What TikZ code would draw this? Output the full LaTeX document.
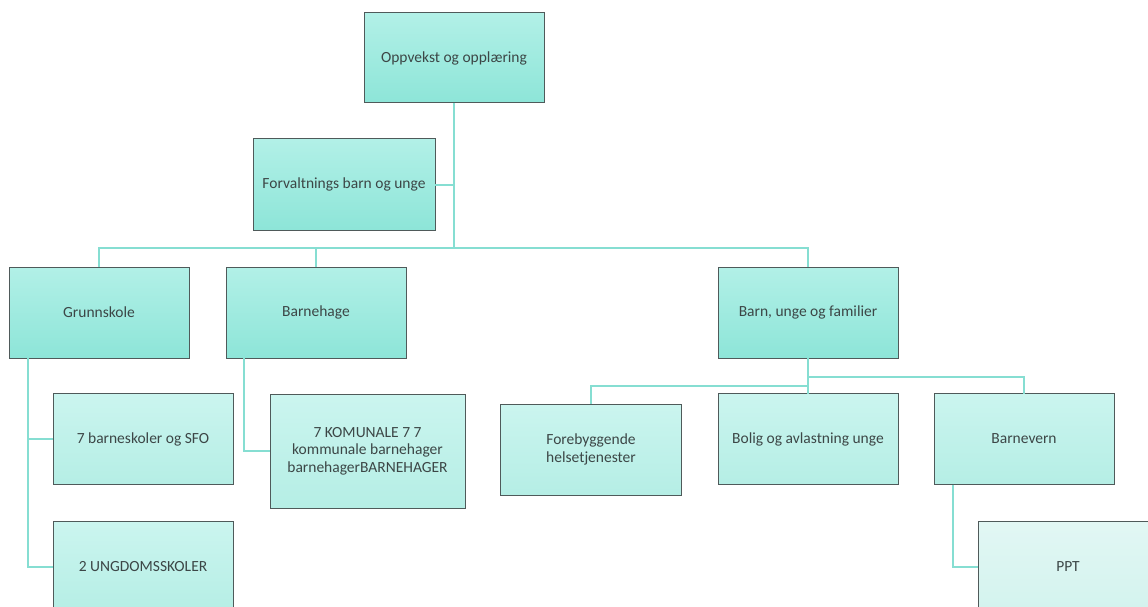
\documentclass[tikz,border=0pt]{standalone}
\usepackage{fontspec}
\setmainfont{Carlito}
\usetikzlibrary{shadings}
\definecolor{lvAtop}{HTML}{B2F0E7}
\definecolor{lvAbot}{HTML}{8DE5D8}
\definecolor{lvBtop}{HTML}{CBF5EF}
\definecolor{lvBbot}{HTML}{B5EEE5}
\definecolor{lvCtop}{HTML}{E2F7F4}
\definecolor{lvCbot}{HTML}{D3F3EE}
\definecolor{edgegray}{HTML}{4F5A5A}
\definecolor{linkteal}{HTML}{86DED2}
\definecolor{txtgray}{HTML}{3C4646}
\tikzset{
  orgbox/.style={draw=edgegray, line width=1pt, inner sep=2pt, outer sep=0pt,
    align=center, text=txtgray, font=\fontsize{15.5}{17.5}\selectfont,
    minimum width=180pt, minimum height=91pt},
  levA/.style={orgbox, top color=lvAtop, bottom color=lvAbot},
  levB/.style={orgbox, top color=lvBtop, bottom color=lvBbot},
  levC/.style={orgbox, top color=lvCtop, bottom color=lvCbot},
  link/.style={draw=linkteal, line width=2pt}
}
\begin{document}
\begin{tikzpicture}[x=1pt,y=-1pt]
\useasboundingbox (0,0) rectangle (1148,607);
\coordinate (bus) at (0,248);
% nodes
\node[levA, minimum width=180pt, minimum height=90pt] (top) at (454,58) {Oppvekst og opplæring};
\node[levA, minimum width=182pt] (forv) at (344,184.5) {Forvaltnings barn og unge};
\node[levA] (grunn) at (99,312.5) {Grunnskole};
\node[levA] (bhage) at (316,312.5) {Barnehage};
\node[levA] (barn) at (808,312.5) {Barn, unge og familier};
\node[levB] (bskol) at (143,439) {7 barneskoler og SFO};
\node[levB] (ungd) at (143,567) {2 UNGDOMSSKOLER};
\node[levB, minimum width=195pt, minimum height=114pt] (komm) at (367.5,451) {7 KOMUNALE 7 7\\kommunale barnehager\\barnehagerBARNEHAGER};
\node[levB, minimum width=181pt] (foreb) at (591,449.5) {Forebyggende\\helsetjenester};
\node[levB] (bolig) at (808,439) {Bolig og avlastning unge};
\node[levB] (barnev) at (1024,439) {Barnevern};
\node[levC] (ppt) at (1068,567) {PPT};
% connectors
\draw[link] (top.south) -- (top.south |- bus);
\draw[link] (forv.east) -- (forv.east -| top.south);
\draw[link] (grunn.north) -- (grunn.north |- bus) -- (barn.north |- bus) -- (barn.north);
\draw[link] (bhage.north) -- (bhage.north |- bus);
\draw[link] ([xshift=19pt]grunn.south west) |- (ungd.west);
\draw[link] ([xshift=19pt]grunn.south west) |- (bskol.west);
\draw[link] ([xshift=18pt]bhage.south west) |- (komm.west);
\draw[link] (barn.south) -- (bolig.north);
\draw[link] (foreb.north) |- ([yshift=-28pt]barn.south);
\draw[link] (barnev.north) |- ([yshift=-19pt]barn.south);
\draw[link] ([xshift=19pt]barnev.south west) |- (ppt.west);
\end{tikzpicture}
\end{document}
